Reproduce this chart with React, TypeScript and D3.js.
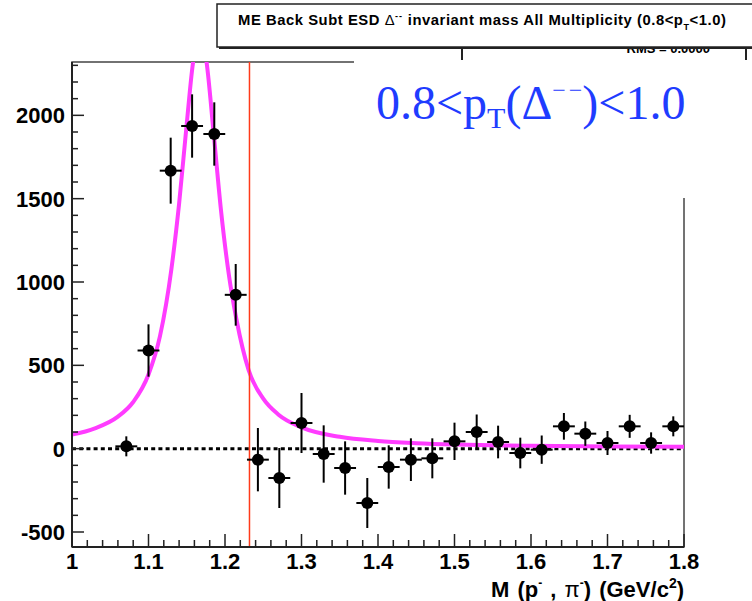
import React from "react";
import * as d3 from "d3";

// ---- data ----
const massValues = [1.071, 1.1, 1.129, 1.157, 1.186, 1.214, 1.243, 1.271, 1.3, 1.329, 1.357, 1.386, 1.414, 1.443, 1.471, 1.5, 1.529, 1.557, 1.586, 1.614, 1.643, 1.671, 1.7, 1.729, 1.757, 1.786];
const counts = [14, 589, 1668, 1936, 1888, 923, -66, -176, 154, -32, -116, -326, -110, -66, -58, 44, 100, 40, -26, -6, 134, 90, 34, 134, 34, 134];
const countErrors = [60, 157, 198, 190, 190, 185, 190, 180, 180, 172, 160, 150, 130, 128, 120, 112, 105, 98, 92, 85, 80, 73, 72, 69, 64, 60];
const binHalfWidth = 0.0143;

const fitX = [1.0, 1.03, 1.06, 1.08, 1.1, 1.115, 1.13, 1.14, 1.15, 1.158, 1.167, 1.176, 1.185, 1.195, 1.205, 1.215, 1.231, 1.25, 1.27, 1.3, 1.35, 1.4, 1.45, 1.5, 1.55, 1.6, 1.7, 1.8];
const fitY = [84, 122, 192, 280, 445, 675, 1080, 1470, 1950, 2310, 2500, 2315, 1900, 1420, 1045, 775, 470, 300, 204, 128, 71, 46, 33, 25, 20, 17, 13, 11];

const xTickLabels = ["1", "1.1", "1.2", "1.3", "1.4", "1.5", "1.6", "1.7", "1.8"];
const xTickValues = [1.0, 1.1, 1.2, 1.3, 1.4, 1.5, 1.6, 1.7, 1.8];
const yTickValues = [-500, 0, 500, 1000, 1500, 2000];
const deltaMass = 1.232;

const W = 752, H = 601;
const L = 72, R = 684, T = 62, B = 547;

export default function App() {
  const x = d3.scaleLinear().domain([1.0, 1.8]).range([L, R]);
  const y = d3.scaleLinear().domain([-590, 2320]).range([B, T]);

  const xMinor = d3.range(0, 41).map((i) => 1.0 + i * 0.02);
  const yMinor = d3.range(-500, 2301, 100);

  const line = d3
    .line<number>()
    .x((_, i) => x(fitX[i]))
    .y((d) => y(d))
    .curve(d3.curveMonotoneX);
  const fitPath = line(fitY) || "";

  const axisColor = "#222";
  const font = "'Liberation Sans', Arial, Helvetica, sans-serif";
  const serif = "'Liberation Serif', 'Times New Roman', serif";

  return (
    <svg width={W} height={H} style={{ position: "absolute", left: 0, top: 0, background: "#fff" }}>
      <defs>
        <clipPath id="plotClip">
          <rect x={L} y={T} width={R - L} height={B - T} />
        </clipPath>
        <clipPath id="statClip">
          <rect x={0} y={47} width={W} height={20} />
        </clipPath>
      </defs>
      <rect x={0} y={0} width={W} height={H} fill="#fff" />

      {/* frame */}
      <rect x={L} y={T} width={R - L} height={B - T} fill="none" stroke="#444" strokeWidth={1.5} />

      {/* zero line */}
      <line x1={x(1.0)} x2={x(1.8)} y1={y(0)} y2={y(0)} stroke="#000" strokeWidth={3} strokeDasharray="4,3.2" />

      {/* fit curve */}
      <g clipPath="url(#plotClip)">
        <path d={fitPath} fill="none" stroke="#ff3cff" strokeWidth={4} />
      </g>

      {/* red delta mass line */}
      <line x1={x(deltaMass)} x2={x(deltaMass)} y1={T} y2={B} stroke="#ff3a1a" strokeWidth={1.5} />

      {/* data points */}
      <g clipPath="url(#plotClip)">
        {massValues.map((m, i) => (
          <g key={i}>
            <line x1={x(m)} x2={x(m)} y1={y(counts[i] - countErrors[i])} y2={y(counts[i] + countErrors[i])} stroke="#000" strokeWidth={2} />
            <line x1={x(m - binHalfWidth)} x2={x(m + binHalfWidth)} y1={y(counts[i])} y2={y(counts[i])} stroke="#000" strokeWidth={2} />
            <circle cx={x(m)} cy={y(counts[i])} r={6} fill="#000" />
          </g>
        ))}
      </g>

      {/* axes */}
      <line x1={L} x2={L} y1={T} y2={B} stroke={axisColor} strokeWidth={2} />
      <line x1={L} x2={R} y1={B} y2={B} stroke={axisColor} strokeWidth={2} />
      {yMinor.map((v) => (
        <line key={"ym" + v} x1={L} x2={L + (v % 500 === 0 ? 12 : 6)} y1={y(v)} y2={y(v)} stroke={axisColor} strokeWidth={1.5} />
      ))}
      {xMinor.map((v, i) => (
        <line key={"xm" + i} x1={x(v)} x2={x(v)} y1={B} y2={B - (i % 5 === 0 ? 13 : 7)} stroke={axisColor} strokeWidth={1.5} />
      ))}
      {yTickValues.map((v) => (
        <text key={"yl" + v} x={L - 7} y={y(v)} dy="0.36em" textAnchor="end" fontFamily={font} fontWeight="bold" fontSize={22} fill="#000">
          {v}
        </text>
      ))}
      {xTickValues.map((v, i) => (
        <text key={"xl" + i} x={x(v)} y={569} textAnchor="middle" fontFamily={font} fontWeight="bold" fontSize={22} fill="#000">
          {xTickLabels[i]}
        </text>
      ))}
      <text x={R} y={597} textAnchor="end" fontFamily={font} fontWeight="bold" fontSize={22} fill="#000" wordSpacing={2}>
        M (p<tspan fontSize={12} dy={-10}>-</tspan>
        <tspan dy={10}> , </tspan>
        <tspan fontWeight="normal">π</tspan>
        <tspan fontSize={12} dy={-10}>-</tspan>
        <tspan dy={10}>) (GeV/c</tspan>
        <tspan fontSize={14} dy={-9}>2</tspan>
        <tspan dy={9}>)</tspan>
      </text>

      {/* stat box (mostly hidden) */}
      <g clipPath="url(#statClip)">
        <rect x={462} y={20} width={284} height={60} fill="#fff" stroke="#222" strokeWidth={2} />
        <text x={710} y={53} textAnchor="end" fontFamily={font} fontWeight="bold" fontSize={13} fill="#000">
          RMS  = 0.0000
        </text>
      </g>

      {/* white pave behind blue label */}
      <rect x={354} y={60} width={W - 354} height={138} fill="#fff" />
      <text x={376} y={119} fontFamily={serif} fontSize={48} fill="#1f3cff">
        0.8&lt;p<tspan fontSize={30} dy={9}>T</tspan>
        <tspan dy={-9}>(Δ</tspan>
        <tspan fontSize={24} dy={-21}>−</tspan>
        <tspan fontSize={24} dx={3}>−</tspan>
        <tspan dy={21}>)&lt;1.0</tspan>
      </text>

      {/* title box */}
      <rect x={219} y={6} width={560} height={43} fill="#222" />
      <rect x={217} y={4} width={560} height={43} fill="#fff" stroke="#222" strokeWidth={1.5} />
      <text x={238} y={25} fontFamily={font} fontWeight="bold" fontSize={14.8} letterSpacing={0.55} fill="#000">
        ME Back Subt ESD <tspan fontWeight="normal">Δ</tspan>
        <tspan fontSize={9} dy={-6} letterSpacing={1}>--</tspan>
        <tspan dy={6}> invariant mass All Multiplicity (0.8&lt;p</tspan>
        <tspan fontSize={9} dy={5}>T</tspan>
        <tspan dy={-5}>&lt;1.0)</tspan>
      </text>
    </svg>
  );
}
